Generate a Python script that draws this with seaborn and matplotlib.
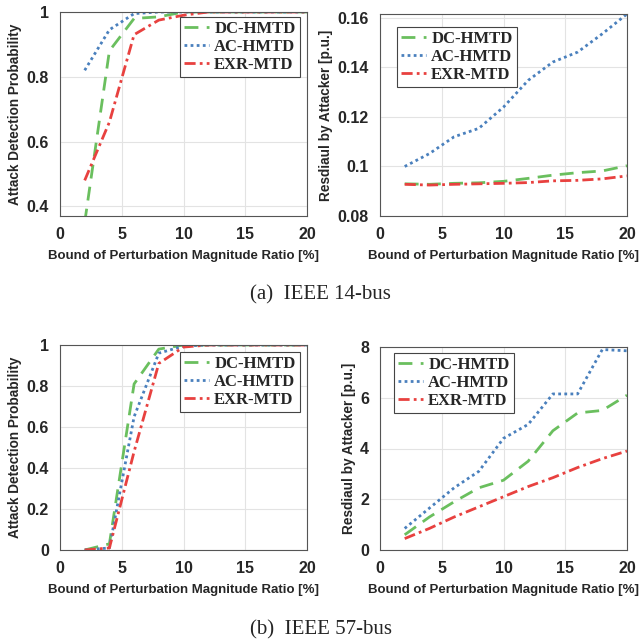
import matplotlib
matplotlib.use("Agg")
import matplotlib.pyplot as plt
import seaborn as sns

ratio = [2, 4, 6, 8, 10, 12, 14, 16, 18, 20]
methods = ["DC-HMTD", "AC-HMTD", "EXR-MTD"]

# IEEE 14-bus
prob_14 = {
    "DC-HMTD": [0.35, 0.88, 0.98, 0.985, 1.0, 1.0, 1.0, 1.0, 1.0, 1.0],
    "AC-HMTD": [0.82, 0.945, 0.995, 1.0, 1.0, 1.0, 1.0, 1.0, 1.0, 1.0],
    "EXR-MTD": [0.48, 0.66, 0.93, 0.975, 0.99, 1.0, 1.0, 1.0, 1.0, 1.0],
}
resid_14 = {
    "DC-HMTD": [0.0930, 0.0928, 0.0932, 0.0934, 0.0940, 0.0952, 0.0965, 0.0975, 0.0982, 0.1003],
    "AC-HMTD": [0.1000, 0.1052, 0.1120, 0.1154, 0.1240, 0.1348, 0.1422, 0.1462, 0.1536, 0.1616],
    "EXR-MTD": [0.0928, 0.0925, 0.0928, 0.0930, 0.0932, 0.0935, 0.0942, 0.0944, 0.0950, 0.0962],
}
# IEEE 57-bus
prob_57 = {
    "DC-HMTD": [0.0, 0.03, 0.81, 0.98, 1.0, 1.0, 1.0, 1.0, 1.0, 1.0],
    "AC-HMTD": [0.0, 0.01, 0.65, 0.96, 0.995, 1.0, 1.0, 1.0, 1.0, 1.0],
    "EXR-MTD": [0.0, 0.01, 0.48, 0.91, 0.99, 1.0, 1.0, 1.0, 1.0, 1.0],
}
resid_57 = {
    "DC-HMTD": [0.6, 1.3, 1.9, 2.45, 2.75, 3.5, 4.7, 5.4, 5.5, 6.1],
    "AC-HMTD": [0.85, 1.65, 2.45, 3.1, 4.4, 4.95, 6.15, 6.15, 7.9, 7.85],
    "EXR-MTD": [0.45, 0.85, 1.3, 1.7, 2.1, 2.5, 2.85, 3.25, 3.6, 3.9],
}

colors = {"DC-HMTD": "#6abf5e", "AC-HMTD": "#4a80bd", "EXR-MTD": "#e8413f"}
styles = {"DC-HMTD": (0, (5, 3)), "AC-HMTD": (0, (1, 1.2)), "EXR-MTD": (0, (4, 1.5, 1, 1.5))}

sns.set_theme(style="whitegrid")
plt.rcParams["font.family"] = ["Liberation Sans", "DejaVu Sans"]

fig = plt.figure(figsize=(6.41, 6.41), dpi=100)
W = 247 / 641
boxes = [
    [60 / 641, (641 - 216) / 641, W, 204 / 641],
    [380 / 641, (641 - 216) / 641, W, 202 / 641],
    [60 / 641, (641 - 550) / 641, W, 205 / 641],
    [380 / 641, (641 - 550) / 641, W, 203 / 641],
]
panels = [
    (prob_14, "Attack Detection Probability", (0.37, 1.0), [0.4, 0.6, 0.8, 1.0], ["0.4", "0.6", "0.8", "1"], (0.486, 0.975)),
    (resid_14, "Resdiaul by Attacker [p.u.]", (0.08, 0.1616), [0.08, 0.10, 0.12, 0.14, 0.16], ["0.08", "0.1", "0.12", "0.14", "0.16"], (0.069, 0.936)),
    (prob_57, "Attack Detection Probability", (0.0, 1.0), [0, 0.2, 0.4, 0.6, 0.8, 1.0], ["0", "0.2", "0.4", "0.6", "0.8", "1"], (0.486, 0.966)),
    (resid_57, "Resdiaul by Attacker [p.u.]", (0.0, 8.0), [0, 2, 4, 6, 8], ["0", "2", "4", "6", "8"], (0.057, 0.97)),
]

for box, (data, ylabel, ylim, yticks, yticklabels, anchor) in zip(boxes, panels):
    ax = fig.add_axes(box)
    for m in methods:
        sns.lineplot(x=ratio, y=data[m], ax=ax, color=colors[m], linestyle=styles[m],
                     linewidth=2.0, label=m)
    ax.set_xlim(0, 20)
    ax.set_ylim(*ylim)
    ax.set_xticks([0, 5, 10, 15, 20])
    ax.set_xticklabels(["0", "5", "10", "15", "20"], fontweight="bold", fontsize=11.5)
    ax.set_yticks(yticks)
    ax.set_yticklabels(yticklabels, fontweight="bold", fontsize=11.5)
    ax.tick_params(axis="both", pad=2, colors="#262626")
    ax.set_xlabel("Bound of Perturbation Magnitude Ratio [%]", fontweight="bold", fontsize=9.5,
                  color="#262626", labelpad=6)
    ax.set_ylabel(ylabel, fontweight="bold", fontsize=9.8, color="#262626", labelpad=3)
    ax.grid(color="#e3e3e3", linewidth=0.8)
    for s in ax.spines.values():
        s.set_edgecolor("#555555")
        s.set_linewidth(0.8)
    leg = ax.legend(loc="upper left", bbox_to_anchor=anchor, borderaxespad=0,
                    prop={"family": "Liberation Serif", "size": 12, "weight": "bold"},
                    handlelength=1.5, borderpad=0.25, labelspacing=0.12, handletextpad=0.3,
                    fancybox=False, framealpha=1, edgecolor="#444444")
    leg.get_frame().set_linewidth(0.8)

fig.text(0.5, 1 - 295 / 641, "(a)  IEEE 14-bus", ha="center", va="center",
         fontfamily="Liberation Serif", fontsize=15)
fig.text(0.5, 1 - 630 / 641, "(b)  IEEE 57-bus", ha="center", va="center",
         fontfamily="Liberation Serif", fontsize=15)

fig.savefig("out.png", dpi=100)
plt.close(fig)
